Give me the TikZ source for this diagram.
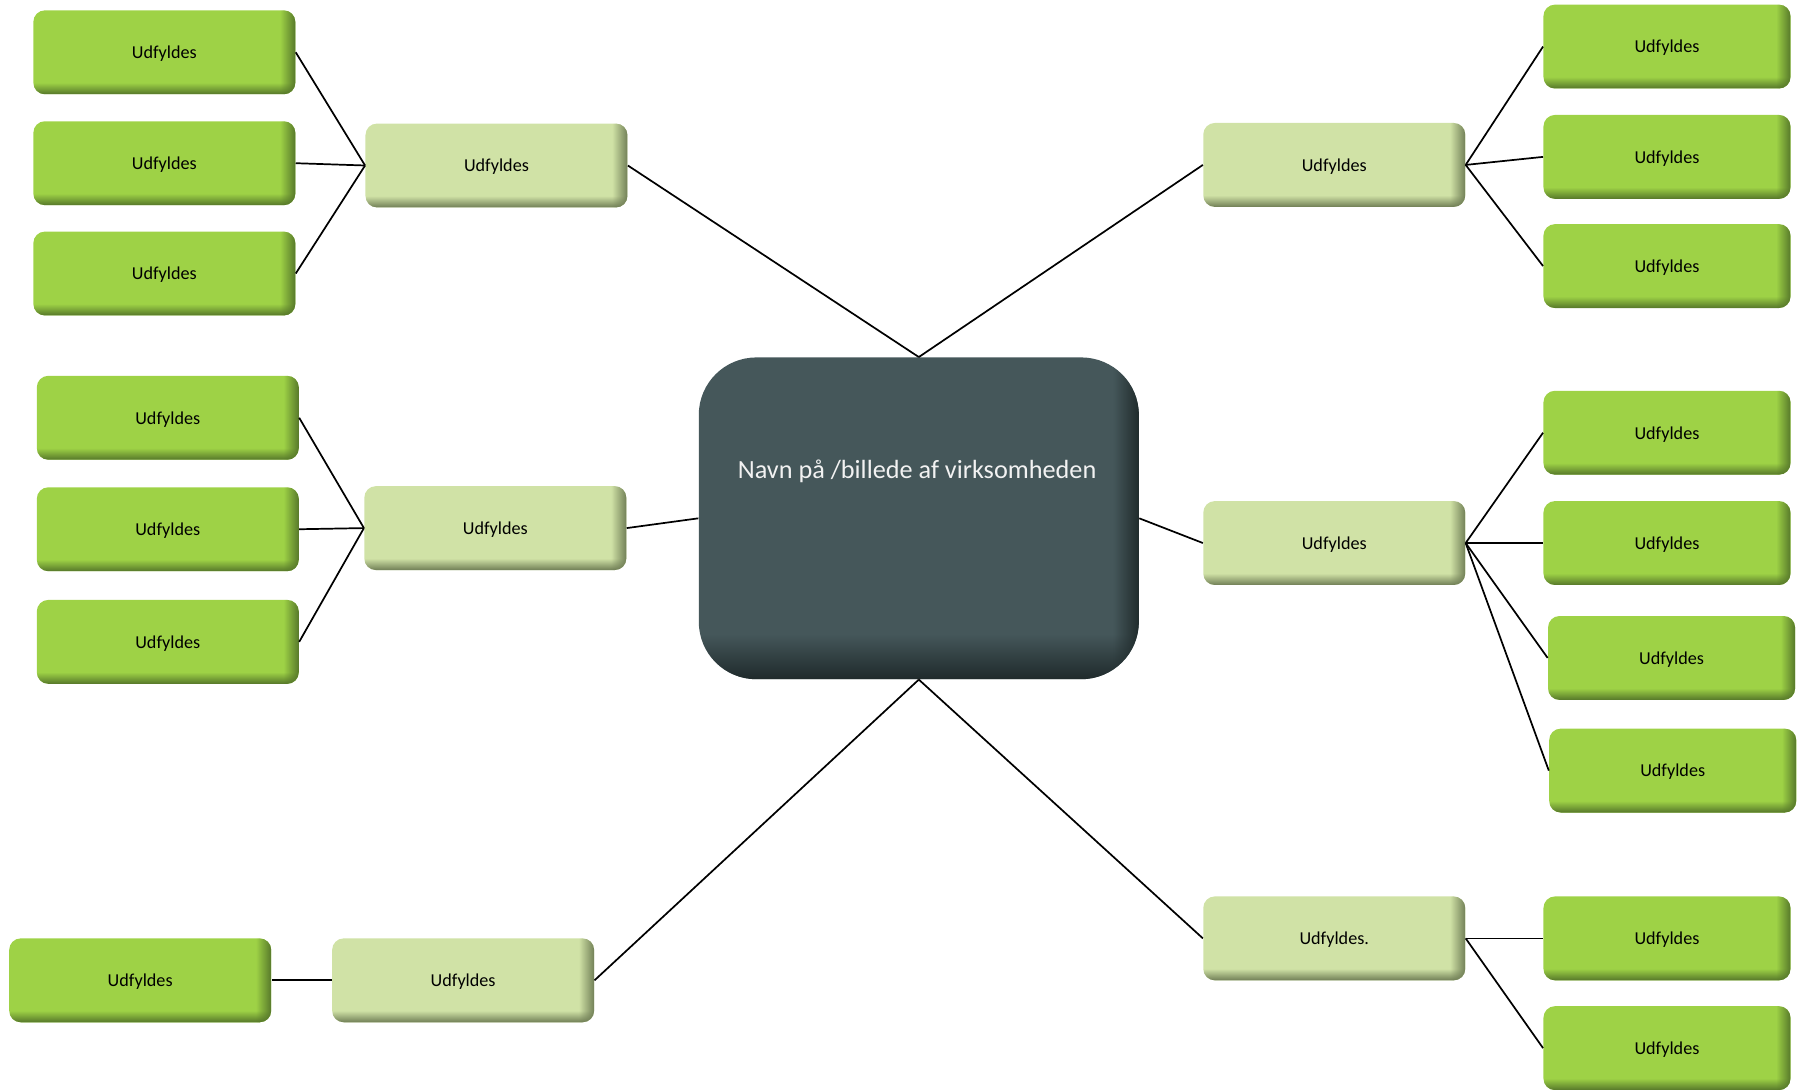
\documentclass[tikz,border=0pt]{standalone}
\usepackage{fontspec}
\setmainfont{Carlito}
\usetikzlibrary{fadings}

\definecolor{gmain}{HTML}{9ED246}
\definecolor{gdark}{HTML}{55762A}
\definecolor{lmain}{HTML}{D0E2A6}
\definecolor{ldark}{HTML}{6F7D55}
\definecolor{hmain}{HTML}{45575A}
\definecolor{hdark}{HTML}{1F2A2B}

\pgfdeclarehorizontalshading{rimeastsh}{100bp}{color(0bp)=(black); color(72bp)=(black); color(75bp)=(white); color(100bp)=(white)}
\pgfdeclarefading{rimeast}{\pgfuseshading{rimeastsh}}
\pgfdeclareverticalshading{rimsouthsh}{100bp}{color(0bp)=(white); color(25bp)=(white); color(32bp)=(black); color(100bp)=(black)}
\pgfdeclarefading{rimsouth}{\pgfuseshading{rimsouthsh}}

\tikzset{
  bevel/.style={postaction={fill=#1,path fading=rimsouth},postaction={fill=#1,path fading=rimeast}},
  leaf/.style={rounded corners=0.2cm,fill=gmain,bevel=gdark,minimum width=4.56cm,minimum height=1.46cm,font=\fontsize{9}{11}\selectfont,text depth=0pt,inner sep=0pt},
  rleaf/.style={leaf,minimum width=4.3cm},
  branch/.style={rounded corners=0.2cm,fill=lmain,bevel=ldark,minimum width=4.56cm,minimum height=1.46cm,font=\fontsize{9}{11}\selectfont,text depth=0pt,inner sep=0pt},
  hub/.style={rounded corners=1cm,fill=hmain,bevel=hdark,minimum width=7.66cm,minimum height=5.6cm,inner sep=0pt},
  link/.style={line width=0.85pt}
}

\begin{document}
\begin{tikzpicture}[x=0.02cm,y=-0.02cm]
 \useasboundingbox (0,0) rectangle (1568,948); %枠
 \node[hub] (H) at (799.5,451) {}; %中心
 \node[text=white!95!black,font=\fontsize{13}{15}\selectfont] (Ht) at (798,410) {Navn på /billede af virksomheden}; %中心の文字
 % 左上
 \node[branch] (B1) at (432,144) {Udfyldes};
 \node[leaf] (A1) at (143,45.5) {Udfyldes};
 \node[leaf] (A2) at (143,142) {Udfyldes};
 \node[leaf] (A3) at (143,238) {Udfyldes};
 % 右上
 \node[branch] (B2) at (1161,143.5) {Udfyldes};
 \node[rleaf] (C1) at (1450.5,40.5) {Udfyldes};
 \node[rleaf] (C2) at (1450.5,136.5) {Udfyldes};
 \node[rleaf] (C3) at (1450.5,231.5) {Udfyldes};
 % 左中
 \node[branch] (B3) at (431,459.5) {Udfyldes};
 \node[leaf] (D1) at (146,363.5) {Udfyldes};
 \node[leaf] (D2) at (146,460.5) {Udfyldes};
 \node[leaf] (D3) at (146,558.5) {Udfyldes};
 % 右中
 \node[branch] (B4) at (1161,472.5) {Udfyldes};
 \node[rleaf] (E1) at (1450.5,376.5) {Udfyldes};
 \node[rleaf] (E2) at (1450.5,472.5) {Udfyldes};
 \node[rleaf] (E3) at (1454.5,572.5) {Udfyldes};
 \node[rleaf] (E4) at (1455.5,670.5) {Udfyldes};
 % 左下
 \node[branch] (B5) at (403,853) {Udfyldes};
 \node[leaf] (F1) at (122,853) {Udfyldes};
 % 右下
 \node[branch] (B6) at (1161,816.5) {Udfyldes.};
 \node[rleaf] (G1) at (1450.5,816.5) {Udfyldes};
 \node[rleaf] (G2) at (1450.5,912) {Udfyldes};
 % 線
 \draw[link] (H.north)--(B1.east);
 \draw[link] (H.north)--(B2.west);
 \draw[link] (H.west)--(B3.east);
 \draw[link] (H.east)--(B4.west);
 \draw[link] (H.south)--(B5.east);
 \draw[link] (H.south)--(B6.west);
 \foreach \n in {A1,A2,A3} \draw[link] (B1.west)--(\n.east);
 \foreach \n in {C1,C2,C3} \draw[link] (B2.east)--(\n.west);
 \foreach \n in {D1,D2,D3} \draw[link] (B3.west)--(\n.east);
 \foreach \n in {E1,E2,E3,E4} \draw[link] (B4.east)--(\n.west);
 \draw[link] (B5.west)--(F1.east);
 \foreach \n in {G1,G2} \draw[link] (B6.east)--(\n.west);
\end{tikzpicture}
\end{document}
